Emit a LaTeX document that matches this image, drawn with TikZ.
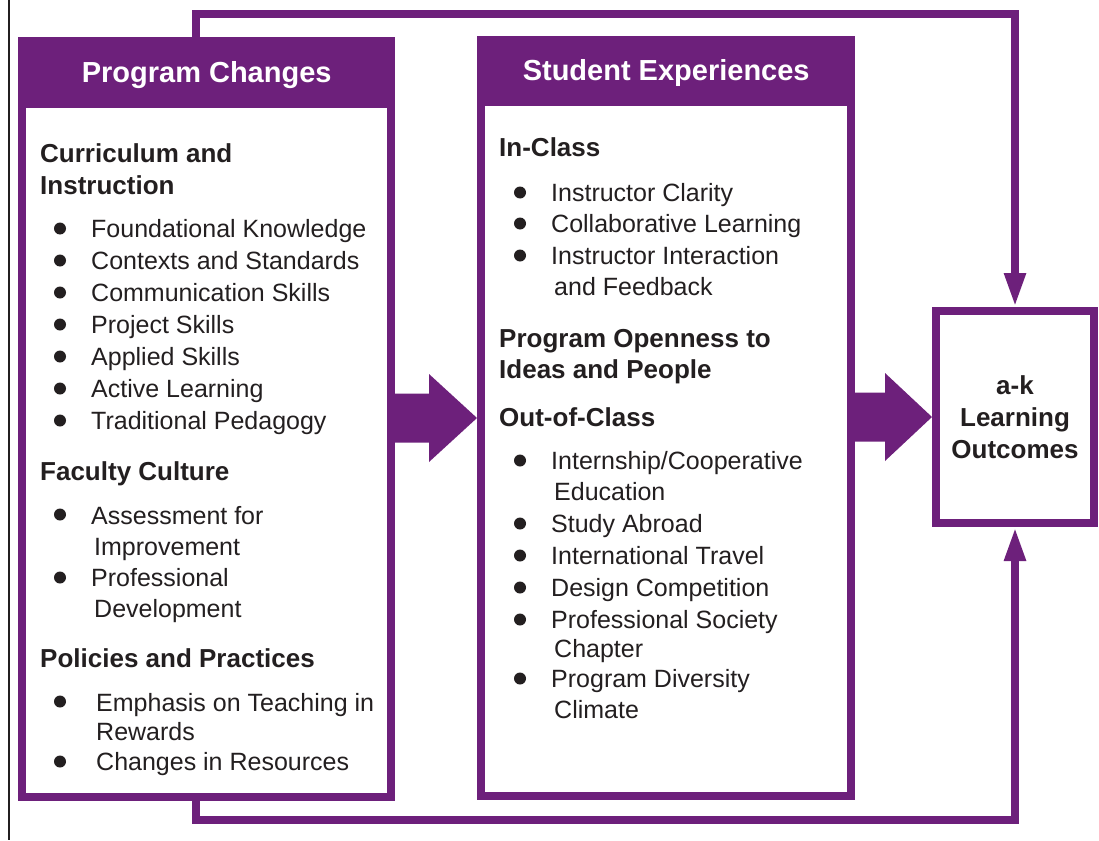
\documentclass[tikz,border=0pt]{standalone}
\usepackage{fontspec}
\setmainfont{Liberation Sans}
\usetikzlibrary{positioning}
\usetikzlibrary{arrows.meta}
\usetikzlibrary{calc}
\definecolor{plum}{RGB}{109,32,123}
\definecolor{ink}{RGB}{35,31,32}

\begin{document}
\begin{tikzpicture}[x=1pt,y=-1pt,
			frame/.style = {draw=plum, line width=8pt, fill=white,
				outer sep=4pt, inner sep=0pt},
			band/.style = {fill=plum, text=white, inner sep=0pt,
				text height=23pt, text depth=4pt,
				font=\fontsize{29}{34}\selectfont\bfseries},
			grouphead/.style = {anchor=base west, align=left, inner sep=0pt,
				text=ink, font=\fontsize{26}{32}\selectfont\bfseries},
			entry/.style = {anchor=base west, align=left, inner sep=0pt,
				text=ink, font=\fontsize{25}{31}\selectfont},
			loop/.style = {draw=plum, line width=8pt,
				-{Triangle[length=34pt,width=20pt]}}
			]
			\useasboundingbox (0,0) rectangle (1099,840);
			\draw[line width=2.5pt, ink] (9,0) -- (9,840);
			
			% feedback loop, behind the boxes
			\coordinate (loopstart) at (196,420);
			\node (out) [frame, minimum width=158pt, minimum height=212pt,
			align=center, text=ink, font=\fontsize{26}{32}\selectfont\bfseries]
			at (1015,417) {a-k\\Learning\\Outcomes};
			\draw[loop] (loopstart) -- ++(0,-406) -| (out.north);
			\draw[loop] (loopstart) -- ++(0,399.5) -| (out.south);
			
			\node (prog) [frame, anchor=north west,
			minimum width=369pt, minimum height=756pt] at (18,37) {};
			\node (stud) [frame, anchor=north west,
			minimum width=370pt, minimum height=756pt] at (477,36) {};
			\node (proghead) [band, anchor=north west,
			minimum width=377pt, minimum height=71pt] at (18,37) {Program Changes};
			\node (studhead) [band, anchor=north west,
			minimum width=378pt, minimum height=70pt] at (477,36) {Student Experiences};
			
			% big arrows
			\fill[plum] ($(prog.east |- stud.west)+(-4,-24.5)$)
			-- ($(stud.west)+(-48,-24.5)$) -- ($(stud.west)+(-48,-44)$)
			-- (stud.west)
			-- ($(stud.west)+(-48,44)$) -- ($(stud.west)+(-48,24.5)$)
			-- ($(prog.east |- stud.west)+(-4,24.5)$) -- cycle;
			\fill[plum] ($(stud.east |- out.west)+(-4,-24.5)$)
			-- ($(out.west)+(-47,-24.5)$) -- ($(out.west)+(-47,-44)$)
			-- (out.west)
			-- ($(out.west)+(-47,44)$) -- ($(out.west)+(-47,24.5)$)
			-- ($(stud.east |- out.west)+(-4,24.5)$) -- cycle;
			
			% program changes (base = last line)
			\node (curr) [grouphead] at (40,194) {Curriculum and\\Instruction};
			\node (found) [entry] at (91,237) {Foundational Knowledge};
			\node (ctx) [entry] at (91,269) {Contexts and Standards};
			\node (comm) [entry] at (91,301) {Communication Skills};
			\node (proj) [entry] at (91,333) {Project Skills};
			\node (appl) [entry] at (91,365) {Applied Skills};
			\node (active) [entry] at (91,397) {Active Learning};
			\node (trad) [entry] at (91,429) {Traditional Pedagogy};
			\node (fac) [grouphead] at (40,480) {Faculty Culture};
			\node (assess) [entry] at (91,555) {Assessment for\\\hspace*{3pt}Improvement};
			\node (profdev) [entry] at (91,617) {Professional\\\hspace*{3pt}Development};
			\node (pol) [grouphead] at (40,667) {Policies and Practices};
			\node (emph) [entry] at (96,740) {Emphasis on Teaching in\\[-2pt]Rewards};
			\node (res) [entry] at (96,770) {Changes in Resources};
			\foreach \y in {237,269,301,333,365,397,429,523,586,710,770}
			\fill[ink] (60,{\y-8.5}) circle (6pt);
			
			% student experiences
			\node (incl) [grouphead] at (499,156) {In-Class};
			\node (clarity) [entry] at (551,201) {Instructor Clarity};
			\node (collab) [entry] at (551,232) {Collaborative Learning};
			\node (interact) [entry] at (551,295) {Instructor Interaction\\\hspace*{3pt}and Feedback};
			\node (open) [grouphead] at (499,378) {Program Openness to\\[-1pt]Ideas and People};
			\node (outcl) [grouphead] at (499,426) {Out-of-Class};
			\node (intern) [entry] at (551,500) {Internship/Cooperative\\\hspace*{3pt}Education};
			\node (abroad) [entry] at (551,532) {Study Abroad};
			\node (travel) [entry] at (551,564) {International Travel};
			\node (design) [entry] at (551,596) {Design Competition};
			\node (society) [entry] at (551,657) {Professional Society\\[-2pt]\hspace*{3pt}Chapter};
			\node (divers) [entry] at (551,718) {Program Diversity\\\hspace*{3pt}Climate};
			\foreach \y in {201,232,264,469,532,564,596,628,687}
			\fill[ink] (520,{\y-8.5}) circle (6pt);
		\end{tikzpicture}
\end{document}
